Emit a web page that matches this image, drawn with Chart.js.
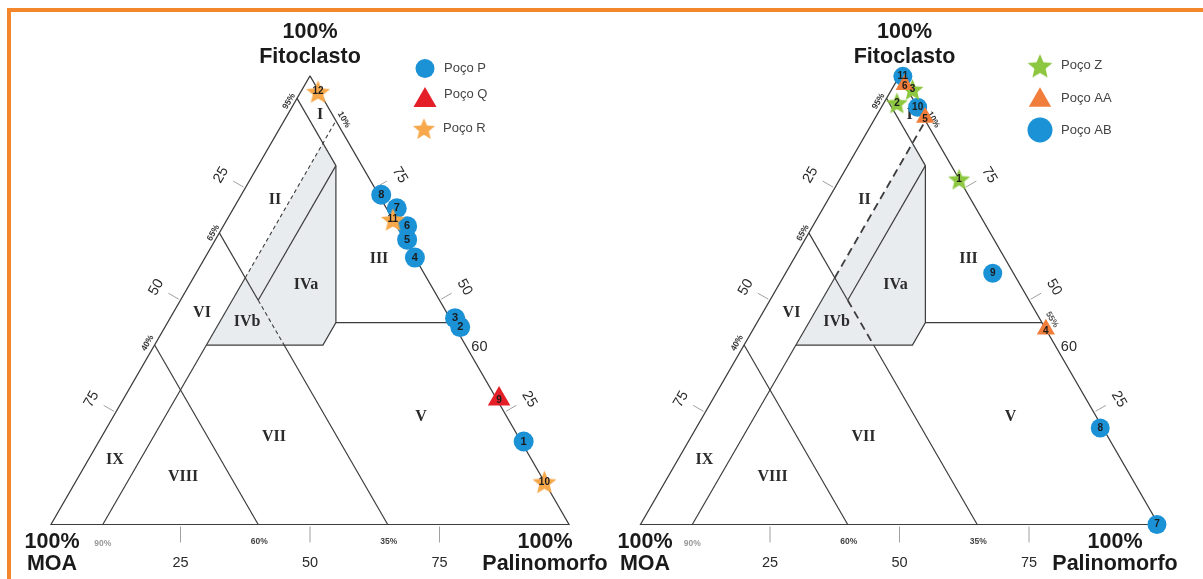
<!DOCTYPE html>
<html>
<head>
<meta charset="utf-8">
<script src="https://cdn.jsdelivr.net/npm/chart.js@4.4.1/dist/chart.umd.min.js"></script>
<style>
    html, body { margin: 0; padding: 0; background: #fff; }
    #wrap { position: relative; width: 1203px; height: 579px; overflow: hidden; }
    #moldura { position: absolute; left: 7px; top: 8px; right: -20px; bottom: -20px;
               border-top: 4px solid #f4862b; border-left: 4px solid #f4862b; pointer-events: none; }
</style>
</head>
<body>
<div id="wrap">
    <canvas id="ternario" width="1203" height="579"></canvas>
    <div id="moldura"></div>
</div>
<script>
/* ============================================================
   DIAGRAMA TERNÁRIO — FITOCLASTO / MOA / PALINOMORFO
   valores em % (Fitoclasto, Palinomorfo); MOA = restante
============================================================ */

// Diagrama 1
const pocoP_fito = [18.5, 44, 46, 59.5, 63.5, 66.5, 70.5, 73.5];
const pocoP_pali = [82, 57, 55, 40.5, 37, 35.5, 31.5, 27];
const pocoP_num  = [1, 2, 3, 4, 5, 6, 7, 8];

const pocoQ_fito = [28];
const pocoQ_pali = [72.5];
const pocoQ_num  = [9];

const pocoR_fito = [9.5, 68, 96.5];
const pocoR_pali = [90.5, 32, 3.3];
const pocoR_num  = [10, 11, 12];

// Diagrama 2
const pocoZ_fito = [77, 94, 97];
const pocoZ_pali = [23, 2.5, 4];
const pocoZ_num  = [1, 2, 3];

const pocoAA_fito = [43.5, 90.7, 98];
const pocoAA_pali = [56.5, 9.6, 2];
const pocoAA_num  = [4, 5, 6];

const pocoAB_fito = [0, 21.5, 56, 93, 99.9];
const pocoAB_pali = [99.7, 78, 40, 7, 0.7];
const pocoAB_num  = [7, 8, 9, 10, 11];

// Limites dos campos (pares [Fitoclasto, Palinomorfo])
const limTriangulo = [[100, 0], [0, 0], [0, 100], [100, 0]];
const limMOA5      = [[95, 0], [80, 15]];
const limPali15    = [[80, 15], [50, 15]];
const limZonaIV    = [[80, 15], [45, 32.5], [40, 32.5], [40, 10]];
const limFito45    = [[45, 32.5], [45, 55]];
const limPali10    = [[0, 10], [55, 10]];
const limPali10tr  = [[55, 10], [90, 10]];
const limMOA35a    = [[65, 0], [50, 15]];
const limMOA35tr   = [[50, 15], [40, 25]];
const limMOA35b    = [[40, 25], [0, 65]];
const limMOA60     = [[40, 0], [0, 40]];
const zonaIV       = [[85, 10], [80, 15], [45, 32.5], [40, 32.5], [40, 10]];

const ticksEixo = [25, 50, 75];
const camposTxt = ["I", "II", "III", "IVa", "IVb", "V", "VI", "VII", "VIII", "IX"];

/* geometria */
const LADO = 518;
const H = Math.sqrt(3) / 2;
const TRI_OFF = [0, 589.5 / LADO];

function tern(f, p, off) {
    return { x: off + (p + f / 2) / 100, y: f * H / 100 };
}

function pontos(fito, pali, off) {
    return fito.map((f, i) => tern(f, pali[i], off));
}

function estrela(cor, R) {
    const s = Math.ceil(R * 2 + 2);
    const c = document.createElement("canvas");
    c.width = s; c.height = s;
    const g = c.getContext("2d");
    g.fillStyle = cor;
    g.beginPath();
    for (let i = 0; i < 10; i++) {
        const r = i % 2 ? R * 0.45 : R;
        const a = -Math.PI / 2 + i * Math.PI / 5;
        const x = s / 2 + r * Math.cos(a);
        const y = s / 2 + r * Math.sin(a) + R * 0.1;
        if (i) g.lineTo(x, y); else g.moveTo(x, y);
    }
    g.closePath();
    g.fill();
    return c;
}

const AZUL = "#1b91d6", VERMELHO = "#e41f28", LARANJA = "#f7a84a", VERDE = "#8dc63f", LARANJA2 = "#f07d3a";
const starR  = estrela(LARANJA, 12.5);
const starZ  = estrela(VERDE, 11.5);
const starRL = estrela(LARANJA, 11.5);
const starZL = estrela(VERDE, 13);

/* datasets de linhas */
function linha(lista, off, dash, w) {
    return {
        data: lista.map(([f, p]) => tern(f, p, off)),
        showLine: true,
        pointRadius: 0,
        pointHoverRadius: 0,
        borderColor: "#3d3d3d",
        borderWidth: w,
        borderDash: dash,
        tension: 0,
        fill: false,
        order: 10
    };
}

const datasets = [];
TRI_OFF.forEach((off, k) => {
    const dash = k === 0 ? [4, 3] : [8, 5];
    const dw = k === 0 ? 1.1 : 1.8;
    [limTriangulo, limMOA5, limPali15, limZonaIV, limFito45, limPali10, limMOA35a, limMOA35b, limMOA60]
        .forEach(s => datasets.push(linha(s, off, [], 1.2)));
    [limPali10tr, limMOA35tr].forEach(s => datasets.push(linha(s, off, dash, dw)));
});

function marcador(label, fito, pali, nums, off, estilo, raio, cor, ordem, fonte) {
    return {
        label,
        data: pontos(fito, pali, off),
        nums,
        fonte,
        showLine: false,
        pointStyle: estilo,
        pointRadius: raio,
        pointHoverRadius: raio,
        pointBackgroundColor: cor,
        pointBorderWidth: 0,
        order: ordem
    };
}

datasets.push(marcador("Poço P", pocoP_fito, pocoP_pali, pocoP_num, TRI_OFF[0], "circle", 10, AZUL, 3, "bold 11px Arial"));
datasets.push(marcador("Poço Q", pocoQ_fito, pocoQ_pali, pocoQ_num, TRI_OFF[0], "triangle", 13, VERMELHO, 2, "bold 10px Arial"));
datasets.push(marcador("Poço R", pocoR_fito, pocoR_pali, pocoR_num, TRI_OFF[0], starR, 12.5, LARANJA, 1, "bold 10px Arial"));
datasets.push(marcador("Poço AB", pocoAB_fito, pocoAB_pali, pocoAB_num, TRI_OFF[1], "circle", 9.5, AZUL, 3, "bold 10px Arial"));
datasets.push(marcador("Poço Z", pocoZ_fito, pocoZ_pali, pocoZ_num, TRI_OFF[1], starZ, 11.5, VERDE, 2, "bold 10px Arial"));
datasets.push(marcador("Poço AA", pocoAA_fito, pocoAA_pali, pocoAA_num, TRI_OFF[1], "triangle", 10.5, LARANJA2, 1, "bold 10px Arial"));

/* posições dos textos (px relativos ao vértice MOA) */
const camposPos = [[269, -410], [224, -324.5], [328, -266], [255, -239.5], [196, -202.5],
                   [370, -107.5], [151, -211.5], [223, -87.5], [132, -47.5], [64, -64.5]];

const rotulosTri = [
    { titulo: [259, -492.5, -467.5], bl: [1, 17.5, 39.5], br: [494, 17.5, 39.5] },
    { titulo: [264, -492.5, -467.5], bl: [4.5, 17.5, 39.5], br: [474.5, 17.5, 39.5] }
];

const pequenos = [
    { txt: "95%", f: 95, p: 0,  dx: -8, dy: 3,  rot: -60, cor: "#333" },
    { txt: "65%", f: 65, p: 0,  dx: -6, dy: 0,  rot: -60, cor: "#333" },
    { txt: "40%", f: 40, p: 0,  dx: -7, dy: -2, rot: -60, cor: "#333" },
    { txt: "10%", f: 90, p: 10, dx: 8,  dy: -1, rot: 60,  cor: "#333" },
    { txt: "55%", f: 45, p: 55, dx: 10, dy: -3, rot: 60,  cor: "#555" },
    { txt: "90%", f: 0,  p: 10, dx: 0,  dy: 19, rot: 0,   cor: "#999" },
    { txt: "60%", f: 0,  p: 40, dx: 1,  dy: 17, rot: 0,   cor: "#444" },
    { txt: "35%", f: 0,  p: 65, dx: 1,  dy: 17, rot: 0,   cor: "#444" }
];

const legendas = [
    [
        { tipo: "circle",   cor: AZUL,     r: 9.5,  txt: "Poço P", dx: 374, dy: -456,   ty: -456.5 },
        { tipo: "triangle", cor: VERMELHO, r: 13.3, txt: "Poço Q", dx: 374, dy: -424.2, ty: -430.5 },
        { tipo: "star",     img: starRL,   txt: "Poço R",  dx: 373, dy: -396,   ty: -396.5 }
    ],
    [
        { tipo: "star",     img: starZL,   txt: "Poço Z",  dx: 399.5, dy: -458.8, ty: -459.5 },
        { tipo: "triangle", cor: LARANJA2, r: 12.9, txt: "Poço AA", dx: 399.5, dy: -424.3, ty: -426.5 },
        { tipo: "circle",   cor: AZUL,     r: 12.5, txt: "Poço AB", dx: 399.5, dy: -394.5, ty: -394.5 }
    ]
];

function texto(ctx, t, x, y, rot, font, cor) {
    ctx.save();
    ctx.translate(x, y);
    ctx.rotate(rot * Math.PI / 180);
    ctx.font = font;
    ctx.fillStyle = cor;
    ctx.textAlign = "center";
    ctx.textBaseline = "middle";
    ctx.fillText(t, 0, 0);
    ctx.restore();
}

const decor = {
    id: "decor",
    beforeDatasetsDraw(chart) {
        const ctx = chart.ctx, xs = chart.scales.x, ys = chart.scales.y;
        const px = (f, p, off) => {
            const t = tern(f, p, off);
            return [xs.getPixelForValue(t.x), ys.getPixelForValue(t.y)];
        };
        const SANS = "'Liberation Sans', Arial, sans-serif";

        TRI_OFF.forEach((off, k) => {
            const [cx, cy] = px(0, 0, off);

            // campo IV (cinza)
            ctx.save();
            ctx.fillStyle = "#e9ecef";
            ctx.beginPath();
            zonaIV.forEach(([f, p], i) => {
                const [x, y] = px(f, p, off);
                if (i) ctx.lineTo(x, y); else ctx.moveTo(x, y);
            });
            ctx.closePath();
            ctx.fill();
            ctx.restore();

            // ticks
            ctx.save();
            ctx.strokeStyle = "#a0a0a0";
            ctx.lineWidth = 1;
            const n1 = [-0.866, -0.5], n2 = [0.866, -0.5];
            ticksEixo.forEach(v => {
                // base (Palinomorfo)
                let [x, y] = px(0, v, off);
                ctx.beginPath(); ctx.moveTo(x, y + 2); ctx.lineTo(x, y + 18); ctx.stroke();
                texto(ctx, String(v), x, y + 38.5, 0, "14.5px " + SANS, "#2a2a2a");
                // lado esquerdo (MOA)
                [x, y] = px(100 - v, 0, off);
                ctx.beginPath();
                ctx.moveTo(x + n1[0] * 2, y + n1[1] * 2); ctx.lineTo(x + n1[0] * 14, y + n1[1] * 14); ctx.stroke();
                texto(ctx, String(v), x + n1[0] * 28, y + n1[1] * 26, -60, "14.5px " + SANS, "#2a2a2a");
                // lado direito (Fitoclasto)
                [x, y] = px(v, 100 - v, off);
                ctx.beginPath();
                ctx.moveTo(x + n2[0] * 2, y + n2[1] * 2); ctx.lineTo(x + n2[0] * 14, y + n2[1] * 14); ctx.stroke();
                texto(ctx, String(v), x + n2[0] * 29, y + n2[1] * 26, 60, "14.5px " + SANS, "#2a2a2a");
            });
            ctx.restore();

            const [x60, y60] = px(40, 60, off);
            texto(ctx, "60", x60 + 14, y60 + 2, 0, "14.5px " + SANS, "#2a2a2a");

            pequenos.forEach(s => {
                const [x, y] = px(s.f, s.p, off);
                texto(ctx, s.txt, x + s.dx, y + s.dy, s.rot, "bold 8.5px " + SANS, s.cor);
            });

            // campos
            camposTxt.forEach((t, i) => {
                texto(ctx, t, cx + camposPos[i][0], cy + camposPos[i][1], 0,
                      "bold 16px 'Liberation Serif', 'Times New Roman', serif", "#2b2b2b");
            });

            // vértices
            const r = rotulosTri[k];
            const fT = "bold 21.5px " + SANS;
            texto(ctx, "100%", cx + r.titulo[0], cy + r.titulo[1], 0, fT, "#1a1a1a");
            texto(ctx, "Fitoclasto", cx + r.titulo[0], cy + r.titulo[2], 0, fT, "#1a1a1a");
            texto(ctx, "100%", cx + r.bl[0], cy + r.bl[1], 0, fT, "#1a1a1a");
            texto(ctx, "MOA", cx + r.bl[0], cy + r.bl[2], 0, fT, "#1a1a1a");
            texto(ctx, "100%", cx + r.br[0], cy + r.br[1], 0, fT, "#1a1a1a");
            texto(ctx, "Palinomorfo", cx + r.br[0], cy + r.br[2], 0, fT, "#1a1a1a");
        });
    },
    afterDatasetsDraw(chart) {
        const ctx = chart.ctx, xs = chart.scales.x, ys = chart.scales.y;

        // números das amostras
        chart.data.datasets.forEach((ds, i) => {
            if (!ds.nums) return;
            const meta = chart.getDatasetMeta(i);
            meta.data.forEach((el, j) => {
                const yoff = ds.pointStyle === "triangle" ? 1.5 : 0;
                texto(ctx, String(ds.nums[j]), el.x, el.y + yoff, 0, ds.fonte, "#1c1c1c");
            });
        });

        // legendas
        TRI_OFF.forEach((off, k) => {
            const t = tern(0, 0, off);
            const cx = xs.getPixelForValue(t.x), cy = ys.getPixelForValue(t.y);
            legendas[k].forEach(it => {
                const x = cx + it.dx, y = cy + it.dy;
                ctx.save();
                if (it.tipo === "circle") {
                    ctx.fillStyle = it.cor;
                    ctx.beginPath(); ctx.arc(x, y, it.r, 0, Math.PI * 2); ctx.fill();
                } else if (it.tipo === "triangle") {
                    ctx.fillStyle = it.cor;
                    ctx.beginPath();
                    for (let a = 0; a < 3; a++) {
                        const ang = -Math.PI / 2 + a * 2 * Math.PI / 3;
                        const px = x + it.r * Math.cos(ang), py = y + it.r * Math.sin(ang);
                        if (a) ctx.lineTo(px, py); else ctx.moveTo(px, py);
                    }
                    ctx.closePath(); ctx.fill();
                } else {
                    ctx.drawImage(it.img, x - it.img.width / 2, y - it.img.height / 2);
                }
                ctx.restore();
                ctx.save();
                ctx.font = "13px 'Liberation Sans', Arial, sans-serif";
                ctx.fillStyle = "#444";
                ctx.textAlign = "left";
                ctx.textBaseline = "middle";
                ctx.fillText(it.txt, x + (k === 0 ? 19 : 21), cy + it.ty);
                ctx.restore();
            });
        });
    }
};

new Chart(document.getElementById("ternario"), {
    type: "scatter",
    data: { datasets },
    options: {
        responsive: false,
        animation: false,
        events: [],
        devicePixelRatio: 1,
        layout: { padding: 0, autoPadding: false },
        plugins: { legend: { display: false }, tooltip: { enabled: false } },
        scales: {
            x: { type: "linear", display: false, min: -51 / LADO, max: (1203 - 51) / LADO },
            y: { type: "linear", display: false, min: -54.5 / LADO, max: 524.5 / LADO }
        }
    },
    plugins: [decor]
});
</script>
</body>
</html>
